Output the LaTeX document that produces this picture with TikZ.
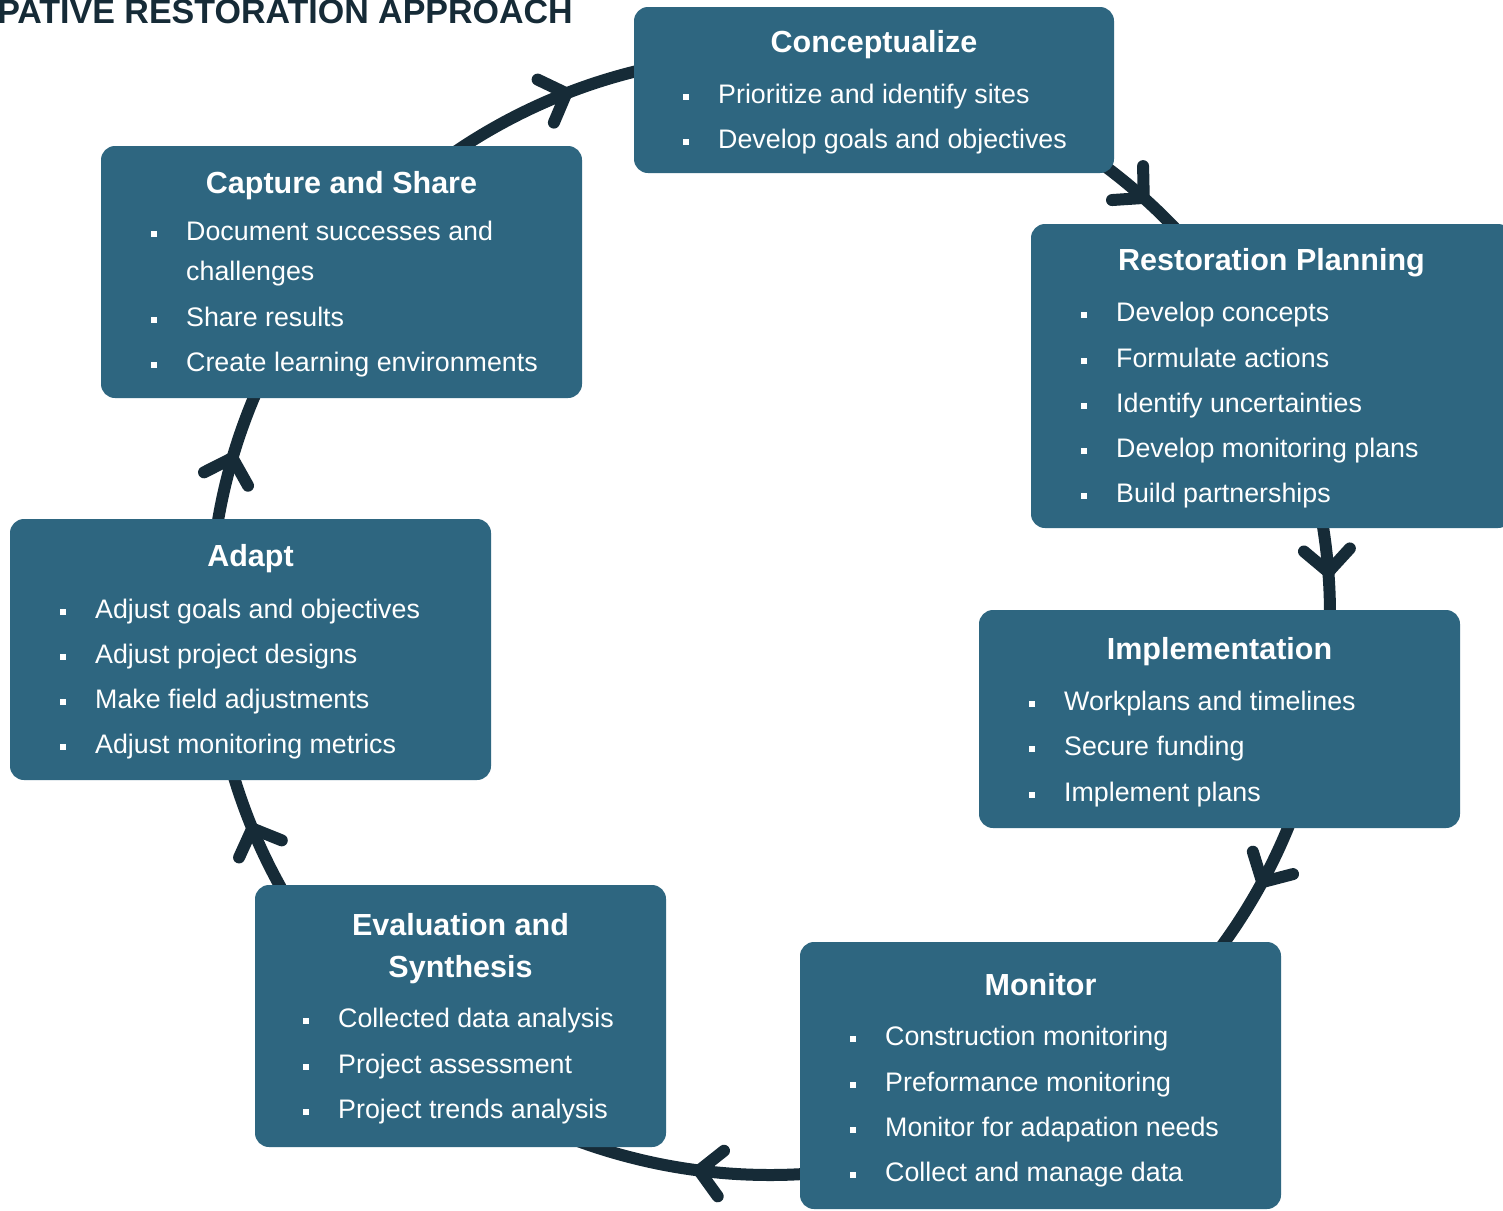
\documentclass[tikz,border=0pt]{standalone}
\usepackage{fontspec}
\setmainfont{Liberation Sans}
\usetikzlibrary{arrows.meta,decorations.markings}
\definecolor{boxblue}{RGB}{46,102,128}
\definecolor{ink}{RGB}{22,43,55}
\newcommand{\bul}{\makebox[0pt][r]{\raisebox{3pt}{\rule{6pt}{6pt}}\hspace{29pt}}}
\begin{document}
\begin{tikzpicture}[x=1pt,y=-1pt,
  stage/.style={fill=boxblue, rounded corners=14pt, inner sep=0pt, draw=none},
  ttl/.style={anchor=base, text=white, inner sep=0pt, font=\fontsize{30.5}{36}\selectfont\bfseries},
  itm/.style={anchor=base west, text=white, inner sep=0pt, font=\fontsize{26.8}{31}\selectfont},
  conn/.style={draw=ink, line width=12pt},
  flow/.style={decoration={markings, mark=at position #1 with {\arrow{Straight Barb[length=22pt,width=46pt,line width=12pt,round]}}}, postaction={decorate}}
]
\useasboundingbox (0,0) rectangle (1503,1210);
\fill[white] (0,0) rectangle (1503,1210);

% header
\node[anchor=base east, inner sep=0pt, text=ink, font=\fontsize{34}{40}\selectfont\bfseries] (hdr) at (573,23) {PATIVE RESTORATION APPROACH};

% cycle connectors (circle centre and start points)
\coordinate (cen) at (770,615);
\path (cen) ++(-126:560) coordinate (k1);
\path (cen) ++(-56:560) coordinate (k2);
\path (cen) ++(-13:560) coordinate (k3);
\path (cen) ++(20:560) coordinate (k4);
\path (cen) ++(84:560) coordinate (k5);
\path (cen) ++(148:560) coordinate (k6);
\path (cen) ++(187:560) coordinate (k7);
\draw[conn, flow=0.588] (k1) arc[start angle=-126, end angle=-100, radius=560];
\draw[conn, flow=0.53] (k2) arc[start angle=-56, end angle=-40, radius=560];
\draw[conn, flow=0.575] (k3) arc[start angle=-13, end angle=3, radius=560];
\draw[conn, flow=0.455] (k4) arc[start angle=20, end angle=40, radius=560];
\draw[conn, flow=0.463] (k5) arc[start angle=84, end angle=114, radius=560];
\draw[conn, flow=0.567] (k6) arc[start angle=148, end angle=166, radius=560];
\draw[conn, flow=0.521] (k7) arc[start angle=187, end angle=206, radius=560];

% boxes
\node[stage, minimum width=480pt, minimum height=166pt] (concept) at (874,90) {};
\node[stage, minimum width=481pt, minimum height=304pt] (restore) at (1271.5,376) {};
\node[stage, minimum width=481pt, minimum height=218pt] (impl) at (1219.5,719) {};
\node[stage, minimum width=481pt, minimum height=267pt] (monitor) at (1040.5,1075.5) {};
\node[stage, minimum width=411pt, minimum height=262pt] (eval) at (460.5,1016) {};
\node[stage, minimum width=481pt, minimum height=261pt] (adapt) at (250.5,649.5) {};
\node[stage, minimum width=481pt, minimum height=252pt] (capture) at (341.5,272) {};

% Conceptualize
\node[ttl] (t1) at (874,52) {Conceptualize};
\node[itm] (t1a) at (718,103) {\bul Prioritize and identify sites};
\node[itm] (t1b) at (718,148) {\bul Develop goals and objectives};

% Restoration Planning
\node[ttl] (t2) at (1271.5,270) {Restoration Planning};
\node[itm] (t2a) at (1116,321) {\bul Develop concepts};
\node[itm] (t2b) at (1116,367) {\bul Formulate actions};
\node[itm] (t2c) at (1116,412) {\bul Identify uncertainties};
\node[itm] (t2d) at (1116,457) {\bul Develop monitoring plans};
\node[itm] (t2e) at (1116,502) {\bul Build partnerships};

% Implementation
\node[ttl] (t3) at (1219.5,659) {Implementation};
\node[itm] (t3a) at (1064,710) {\bul Workplans and timelines};
\node[itm] (t3b) at (1064,755) {\bul Secure funding};
\node[itm] (t3c) at (1064,801) {\bul Implement plans};

% Monitor
\node[ttl] (t4) at (1040.5,995) {Monitor};
\node[itm] (t4a) at (885,1045) {\bul Construction monitoring};
\node[itm] (t4b) at (885,1091) {\bul Preformance monitoring};
\node[itm] (t4c) at (885,1136) {\bul Monitor for adapation needs};
\node[itm] (t4d) at (885,1181) {\bul Collect and manage data};

% Evaluation and Synthesis
\node[ttl] (t5) at (460.5,935) {Evaluation and};
\node[ttl] (t5b) at (460.5,977) {Synthesis};
\node[itm] (t5c) at (338,1027) {\bul Collected data analysis};
\node[itm] (t5d) at (338,1073) {\bul Project assessment};
\node[itm] (t5e) at (338,1118) {\bul Project trends analysis};

% Adapt
\node[ttl] (t6) at (250.5,566) {Adapt};
\node[itm] (t6a) at (95,618) {\bul Adjust goals and objectives};
\node[itm] (t6b) at (95,663) {\bul Adjust project designs};
\node[itm] (t6c) at (95,708) {\bul Make field adjustments};
\node[itm] (t6d) at (95,753) {\bul Adjust monitoring metrics};

% Capture and Share
\node[ttl] (t7) at (341.5,193) {Capture and Share};
\node[itm] (t7a) at (186,240) {\bul Document successes and};
\node[itm] (t7b) at (186,280) {challenges};
\node[itm] (t7c) at (186,326) {\bul Share results};
\node[itm] (t7d) at (186,371) {\bul Create learning environments};
\end{tikzpicture}
\end{document}
